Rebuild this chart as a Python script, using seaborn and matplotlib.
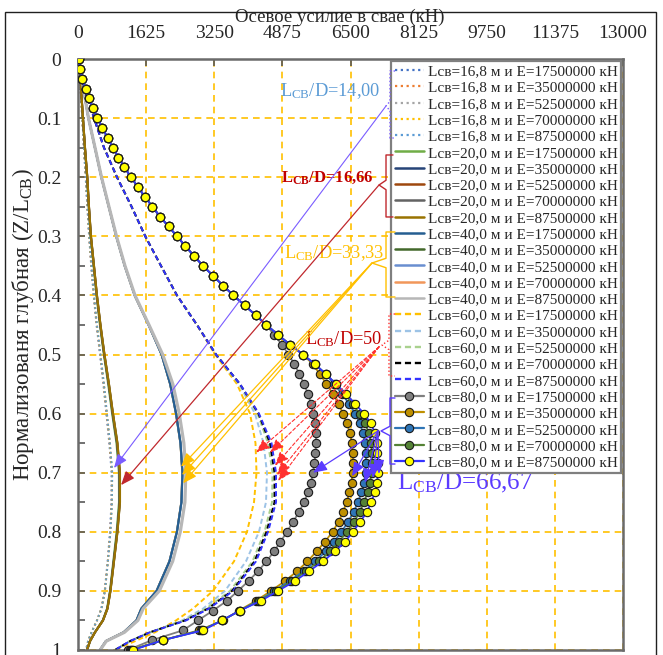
import matplotlib
matplotlib.use("Agg")
import matplotlib.pyplot as plt
from matplotlib.lines import Line2D
from matplotlib.patches import Rectangle
from matplotlib.ticker import MultipleLocator
import seaborn as sns

# ---------------------------------------------------------------------------
# Normalised depth Z/Lсв
Z_LINE = [0.0, 0.02, 0.05, 0.1, 0.15, 0.2, 0.25, 0.3, 0.35, 0.4, 0.45, 0.5, 0.55,
          0.6, 0.65, 0.7, 0.75, 0.8, 0.85, 0.9, 0.93, 0.95, 0.97, 0.985, 1.0]
Z_NODE = [0.0, 0.0167, 0.0333, 0.05, 0.0667, 0.0833, 0.1, 0.1167, 0.1333, 0.15,
          0.1667, 0.1833, 0.2, 0.2167, 0.2333, 0.25, 0.2667, 0.2833, 0.3, 0.3167,
          0.3333, 0.35, 0.3667, 0.3833, 0.4, 0.4167, 0.4333, 0.45, 0.4667, 0.4833,
          0.5, 0.5167, 0.5333, 0.55, 0.5667, 0.5833, 0.6, 0.6167, 0.6333, 0.65,
          0.6667, 0.6833, 0.7, 0.7167, 0.7333, 0.75, 0.7667, 0.7833, 0.8, 0.8167,
          0.8333, 0.85, 0.8667, 0.8833, 0.9, 0.9167, 0.9333, 0.95, 0.9667, 0.9833, 1.0]

PILE_LENGTHS = ["16,8", "20,0", "40,0", "60,0", "80,0"]
MODULI = ["17500000", "35000000", "52500000", "70000000", "87500000"]

# Axial force in the pile, kN (one list per modulus E)
N_L168 = [
    [0, 28, 58, 100, 139, 181, 221, 263, 314, 372, 441, 523, 604, 675, 745, 800, 796, 762, 705, 636, 556, 452, 325, 243, 196],
    [0, 29, 59, 101, 141, 183, 224, 266, 318, 377, 447, 530, 612, 684, 754, 809, 804, 769, 711, 640, 558, 452, 323, 241, 193],
    [0, 29, 59, 102, 142, 185, 226, 268, 320, 380, 450, 534, 616, 688, 759, 814, 808, 772, 714, 642, 560, 453, 322, 240, 192],
    [0, 29, 60, 102, 143, 186, 227, 269, 321, 381, 452, 536, 618, 690, 761, 816, 810, 774, 715, 643, 561, 453, 322, 239, 191],
    [0, 29, 60, 103, 143, 186, 227, 270, 322, 382, 453, 537, 620, 692, 763, 818, 811, 775, 716, 644, 561, 453, 322, 239, 191],
]
N_L20 = [
    [0, 32, 70, 116, 163, 216, 255, 302, 372, 441, 523, 616, 720, 814, 918, 976, 978, 922, 842, 762, 693, 590, 404, 287, 218],
    [0, 33, 71, 118, 165, 219, 259, 306, 377, 447, 530, 624, 730, 825, 930, 990, 991, 933, 851, 769, 699, 593, 405, 286, 216],
    [0, 33, 72, 118, 166, 221, 261, 308, 380, 450, 534, 628, 735, 830, 936, 996, 997, 938, 855, 772, 702, 595, 406, 286, 215],
    [0, 33, 72, 119, 167, 222, 262, 309, 381, 452, 536, 631, 738, 834, 940, 1000, 1000, 941, 858, 774, 703, 596, 406, 286, 215],
    [0, 33, 72, 119, 167, 222, 262, 310, 382, 453, 537, 632, 739, 835, 942, 1002, 1002, 942, 859, 775, 704, 596, 406, 286, 215],
]
N_L40 = [
    [0, 60, 130, 249, 404, 558, 735, 913, 1115, 1353, 1685, 1994, 2200, 2340, 2446, 2492, 2468, 2361, 2183, 1876, 1512, 1395, 1092, 666, 524],
    [0, 60, 130, 249, 404, 558, 735, 913, 1115, 1353, 1685, 1994, 2198, 2338, 2444, 2490, 2466, 2359, 2181, 1874, 1510, 1393, 1090, 665, 524],
    [0, 60, 130, 249, 404, 558, 735, 913, 1115, 1353, 1685, 1994, 2199, 2339, 2445, 2491, 2467, 2360, 2182, 1875, 1511, 1394, 1091, 665, 524],
    [0, 60, 130, 249, 404, 558, 735, 913, 1115, 1353, 1685, 1994, 2197, 2337, 2443, 2489, 2465, 2358, 2180, 1873, 1509, 1392, 1089, 665, 524],
    [0, 60, 131, 250, 406, 561, 739, 918, 1121, 1360, 1694, 2020, 2262, 2415, 2525, 2572, 2550, 2440, 2258, 1940, 1555, 1428, 1110, 675, 528],
]
N_L60 = [
    [0, 60, 155, 382, 620, 930, 1279, 1605, 1980, 2361, 2839, 3268, 3793, 4103, 4234, 4258, 4198, 4031, 3721, 3220, 2743, 2338, 1837, 1360, 883],
    [0, 60, 155, 382, 620, 930, 1279, 1605, 1980, 2361, 2839, 3292, 3840, 4222, 4425, 4508, 4484, 4317, 4007, 3506, 2982, 2481, 1741, 1240, 883],
    [0, 60, 155, 382, 620, 930, 1279, 1605, 1980, 2361, 2839, 3292, 3852, 4282, 4532, 4640, 4628, 4449, 4162, 3626, 3053, 2528, 1717, 1240, 883],
    [0, 60, 155, 382, 620, 930, 1279, 1605, 1980, 2361, 2839, 3292, 3864, 4305, 4580, 4687, 4687, 4496, 4210, 3673, 3101, 2552, 1717, 1240, 883],
    [0, 60, 155, 382, 620, 930, 1279, 1605, 1980, 2361, 2839, 3292, 3864, 4317, 4616, 4723, 4723, 4532, 4246, 3697, 3125, 2576, 1717, 1240, 883],
]
N_L80 = [
    [24, 48, 107, 179, 262, 358, 465, 584, 704, 835, 966, 1109, 1264, 1431, 1598, 1777, 1956, 2159, 2361, 2564,
     2767, 2982, 3220, 3459, 3709, 3972, 4234, 4496, 4675, 4866, 5021, 5164, 5283, 5391, 5486, 5558, 5605, 5653,
     5677, 5677, 5665, 5641, 5605, 5558, 5486, 5391, 5271, 5128, 4985, 4830, 4675, 4496, 4294, 4067, 3816, 3554,
     3220, 2862, 2505, 1765, 1193],
    [24, 48, 107, 179, 262, 358, 465, 584, 704, 835, 966, 1109, 1264, 1431, 1598, 1777, 1956, 2159, 2361, 2564,
     2767, 2982, 3220, 3459, 3709, 3972, 4234, 4496, 4771, 5057, 5367, 5605, 5772, 5927, 6083, 6214, 6321, 6416,
     6488, 6536, 6560, 6560, 6548, 6524, 6476, 6405, 6321, 6214, 6071, 5892, 5689, 5474, 5224, 4938, 4604, 4246,
     3840, 3459, 2886, 2028, 1240],
    [24, 48, 107, 179, 262, 358, 465, 584, 704, 835, 966, 1109, 1264, 1431, 1598, 1777, 1956, 2159, 2361, 2564,
     2767, 2982, 3220, 3459, 3709, 3972, 4234, 4496, 4771, 5057, 5367, 5653, 5916, 6106, 6297, 6464, 6607, 6727,
     6798, 6846, 6870, 6870, 6858, 6822, 6762, 6679, 6572, 6440, 6285, 6106, 5904, 5665, 5379, 5045, 4675, 4294,
     3864, 3435, 2934, 2028, 1264],
    [24, 48, 107, 179, 262, 358, 465, 584, 704, 835, 966, 1109, 1264, 1431, 1598, 1777, 1956, 2159, 2361, 2564,
     2767, 2982, 3220, 3459, 3709, 3972, 4234, 4496, 4771, 5057, 5367, 5653, 5916, 6154, 6357, 6548, 6715, 6846,
     6941, 6989, 7013, 7013, 7001, 6965, 6906, 6822, 6715, 6583, 6416, 6226, 6011, 5749, 5438, 5105, 4723, 4329,
     3864, 3435, 2958, 2028, 1288],
    [24, 48, 107, 179, 262, 358, 465, 584, 704, 835, 966, 1109, 1264, 1431, 1598, 1777, 1956, 2159, 2361, 2564,
     2767, 2982, 3220, 3459, 3709, 3972, 4234, 4496, 4771, 5057, 5367, 5653, 5916, 6154, 6393, 6607, 6822, 6989,
     7084, 7132, 7144, 7156, 7156, 7132, 7084, 6989, 6893, 6727, 6560, 6369, 6130, 5844, 5510, 5176, 4771, 4365,
     3864, 3435, 2982, 2028, 1312],
]

X_TICKS = [0, 1625, 3250, 4875, 6500, 8125, 9750, 11375, 13000]
Y_TICKS = [0, 0.1, 0.2, 0.3, 0.4, 0.5, 0.6, 0.7, 0.8, 0.9, 1.0]
Y_TICK_LABELS = ["0", "0.1", "0.2", "0.3", "0.4", "0.5", "0.6", "0.7", "0.8", "0.9", "1"]

# ---------------------------------------------------------------------------
sns.set_style("white")
SERIF = ["Liberation Serif", "DejaVu Serif"]
plt.rcParams["font.family"] = SERIF
plt.rcParams["mathtext.fontset"] = "custom"
plt.rcParams["mathtext.rm"] = "Liberation Serif"
plt.rcParams["mathtext.it"] = "Liberation Serif:italic"
plt.rcParams["mathtext.bf"] = "Liberation Serif:bold"

fig = plt.figure(figsize=(6.63, 6.55), dpi=100)
ax = fig.add_axes([78 / 663, 5 / 655, 545 / 663, 591 / 655])

# outer chart-area border
fig.patches.append(Rectangle((5 / 663, -0.02), 651 / 663, 0.02 + 643 / 655,
                             transform=fig.transFigure, fill=False,
                             edgecolor="#202020", lw=1.0, zorder=0))

STYLE_168 = dict(colors=["#4472C4", "#ED7D31", "#A5A5A5", "#FFC000", "#5B9BD5"],
                 ls=(0, (1, 1.6)), lw=1.3, z=[2.0, 2.01, 2.02, 2.03, 2.04])
STYLE_20 = dict(colors=["#70AD47", "#264478", "#9E480E", "#636363", "#997300"],
                ls="-", lw=1.5, z=[2.1, 2.11, 2.12, 2.13, 2.14])
STYLE_40 = dict(colors=["#255E91", "#43682B", "#698ED0", "#F1975A", "#B7B7B7"],
                ls="-", lw=1.5, z=[2.25, 2.22, 2.23, 2.21, 2.26])
STYLE_60 = dict(colors=["#FFC000", "#9DC3E6", "#A9D18E", "#000000", "#3333FF"],
                ls=(0, (2.6, 1.6)), lw=1.4, z=[2.3, 2.31, 2.32, 2.33, 2.34])
STYLE_80_LINE = ["#7F7F7F", "#BF9000", "#2E75B6", "#548235", "#3333FF"]
STYLE_80_FACE = ["#7F7F7F", "#BF9000", "#2E75B6", "#548235", "#FFFF00"]


def draw(x, y, **kw):
    sns.lineplot(x=x, y=y, sort=False, estimator=None, ax=ax, legend=False, **kw)


handles = []
groups = [(N_L168, STYLE_168), (N_L20, STYLE_20), (N_L40, STYLE_40), (N_L60, STYLE_60)]
for (series, st), length in zip(groups, PILE_LENGTHS[:4]):
    for k, (vals, col) in enumerate(zip(series, st["colors"])):
        lw = st["lw"]
        if length == "40,0" and k == 4:
            lw = 2.3
        draw(vals, Z_LINE, color=col, linestyle=st["ls"], linewidth=lw, zorder=st["z"][k])
        handles.append(Line2D([], [], color=col, linestyle=st["ls"], lw=st["lw"] + 0.3,
                              label=f"Lсв={length} м и E={MODULI[k]} кН"))

for k, vals in enumerate(N_L80):
    draw(vals, Z_NODE, color=STYLE_80_LINE[k], linestyle="-", linewidth=1.3,
         marker="o", markersize=6, markerfacecolor=STYLE_80_FACE[k],
         markeredgecolor="#1a1a1a", markeredgewidth=0.8, zorder=3 + k * 0.1)
    handles.append(Line2D([], [], color=STYLE_80_LINE[k], lw=1.6, marker="o", markersize=6,
                          markerfacecolor=STYLE_80_FACE[k], markeredgecolor="#1a1a1a",
                          markeredgewidth=0.8,
                          label=f"Lсв={PILE_LENGTHS[4]} м и E={MODULI[k]} кН"))

# ---------------------------------------------------------------------------
ax.set_xlim(0, 13000)
ax.set_ylim(1.0, 0.0)
ax.xaxis.tick_top()
ax.xaxis.set_label_position("top")
ax.set_xticks(X_TICKS)
ax.set_xticklabels([str(v) for v in X_TICKS])
ax.set_yticks(Y_TICKS)
ax.set_yticklabels(Y_TICK_LABELS)
ax.yaxis.set_minor_locator(MultipleLocator(0.05))
ax.tick_params(axis="x", which="major", direction="in", length=5, width=1.2,
               color="#595959", labelsize=14, pad=12, top=True, bottom=False)
ax.tick_params(axis="y", which="both", direction="in", length=5, width=1.2,
               color="#595959", labelsize=14, pad=12, left=True, right=False)
for sp in ax.spines.values():
    sp.set_color("#6b6b6b")
    sp.set_linewidth(1.8)
ax.set_axisbelow(True)
ax.grid(True, which="major", color="#FFC000", linestyle=(0, (4, 3)), linewidth=1.2)

ax.set_xlabel("Осевое усилие в свае (кН)", fontsize=13.5)
ax.xaxis.label.set_va("center")
ax.xaxis.set_label_coords(0.48, 1.07)
ax.set_ylabel("Нормализованя глубная (Z/L$_{\\mathrm{CB}}$)", fontsize=16.5)
ax.yaxis.label.set_va("center")
ax.yaxis.set_label_coords(-0.1, 0.55)

leg = ax.legend(handles=handles, loc="upper right", bbox_to_anchor=(0.997, 0.997),
                prop={"family": SERIF, "size": 11}, frameon=True, fancybox=False,
                edgecolor="#7F7F7F", framealpha=1, borderpad=0.25, labelspacing=0.17,
                handlelength=1.9, handletextpad=0.25, borderaxespad=0.0)
leg.get_frame().set_linewidth(1.6)
leg.set_zorder(5)

# ---------------------------------------------------------------------------
# Brackets around legend groups and the L/D callouts


def bracket(xv, xe, xt, yt, yb, ym, color, ls):
    d = 0.008
    ax.add_line(Line2D([xe, xv, xv, xt, xv, xv, xe],
                       [yt, yt, ym - d, ym, ym + d, yb, yb],
                       color=color, lw=1.0, linestyle=ls, clip_on=False, zorder=6))


def arrow(start, end, color, ls="-", lw=0.9):
    ax.annotate("", xy=end, xytext=start,
                arrowprops=dict(arrowstyle="-|>,head_length=0.7,head_width=0.28",
                                color=color, lw=lw, linestyle=ls,
                                shrinkA=0, shrinkB=0, mutation_scale=12),
                zorder=6)


PURPLE_LIGHT = "#7A5CFF"
RED = "#C0282D"
GOLD = "#FFC000"
RED_DASH = "#FF3030"
PURPLE = "#5B3BFF"

bracket(7442, 7561, 7347, 0.0203, 0.1337, 0.0795, PURPLE_LIGHT, ":")
arrow((7347, 0.0795), (859, 0.692), PURPLE_LIGHT, lw=0.8)
ax.text(4818, 0.055, "L$_{\\mathrm{CB}}$/D=14,00", color="#5B9BD5", fontsize=13.2,
        ha="left", va="center")

bracket(7347, 7514, 7180, 0.1624, 0.2673, 0.2132, RED, "-")
arrow((7180, 0.2132), (1026, 0.721), RED)
ax.text(4842, 0.2005, "L$_{\\mathbf{CB}}$/D=16,66", color="#C00000", fontsize=12,
        fontweight="bold", ha="left", va="center")

bracket(7347, 7561, 7013, 0.2927, 0.4027, 0.3452, GOLD, "-")
for end in [(2457, 0.690), (2481, 0.704), (2505, 0.718)]:
    arrow((7013, 0.3452), end, GOLD)
ax.text(4914, 0.329, "L$_{\\mathrm{CB}}$/D=33,33", color=GOLD, fontsize=13.2,
        ha="left", va="center")

bracket(7418, 7561, 7251, 0.4315, 0.5364, 0.4839, RED_DASH, ":")
for end in [(4246, 0.666), (4580, 0.666), (4699, 0.688), (4747, 0.704), (4771, 0.714)]:
    arrow((7180, 0.487), end, RED_DASH, ls=(0, (3, 2)), lw=0.8)
ax.text(5415, 0.474, "L$_{\\mathrm{CB}}$/D=50", color="#C00000", fontsize=13.2,
        ha="left", va="center")

bracket(7442, 7561, 7228, 0.5736, 0.6853, 0.6294, PURPLE, "-")
for end in [(5605, 0.700), (6536, 0.706), (6846, 0.717), (7037, 0.709), (7180, 0.702)]:
    arrow((7156, 0.6294), end, PURPLE)
ax.text(7609, 0.718, "L$_{\\mathrm{CB}}$/D=66,67", color=PURPLE, fontsize=18,
        ha="left", va="center")

fig.savefig("out.png", dpi=100)
